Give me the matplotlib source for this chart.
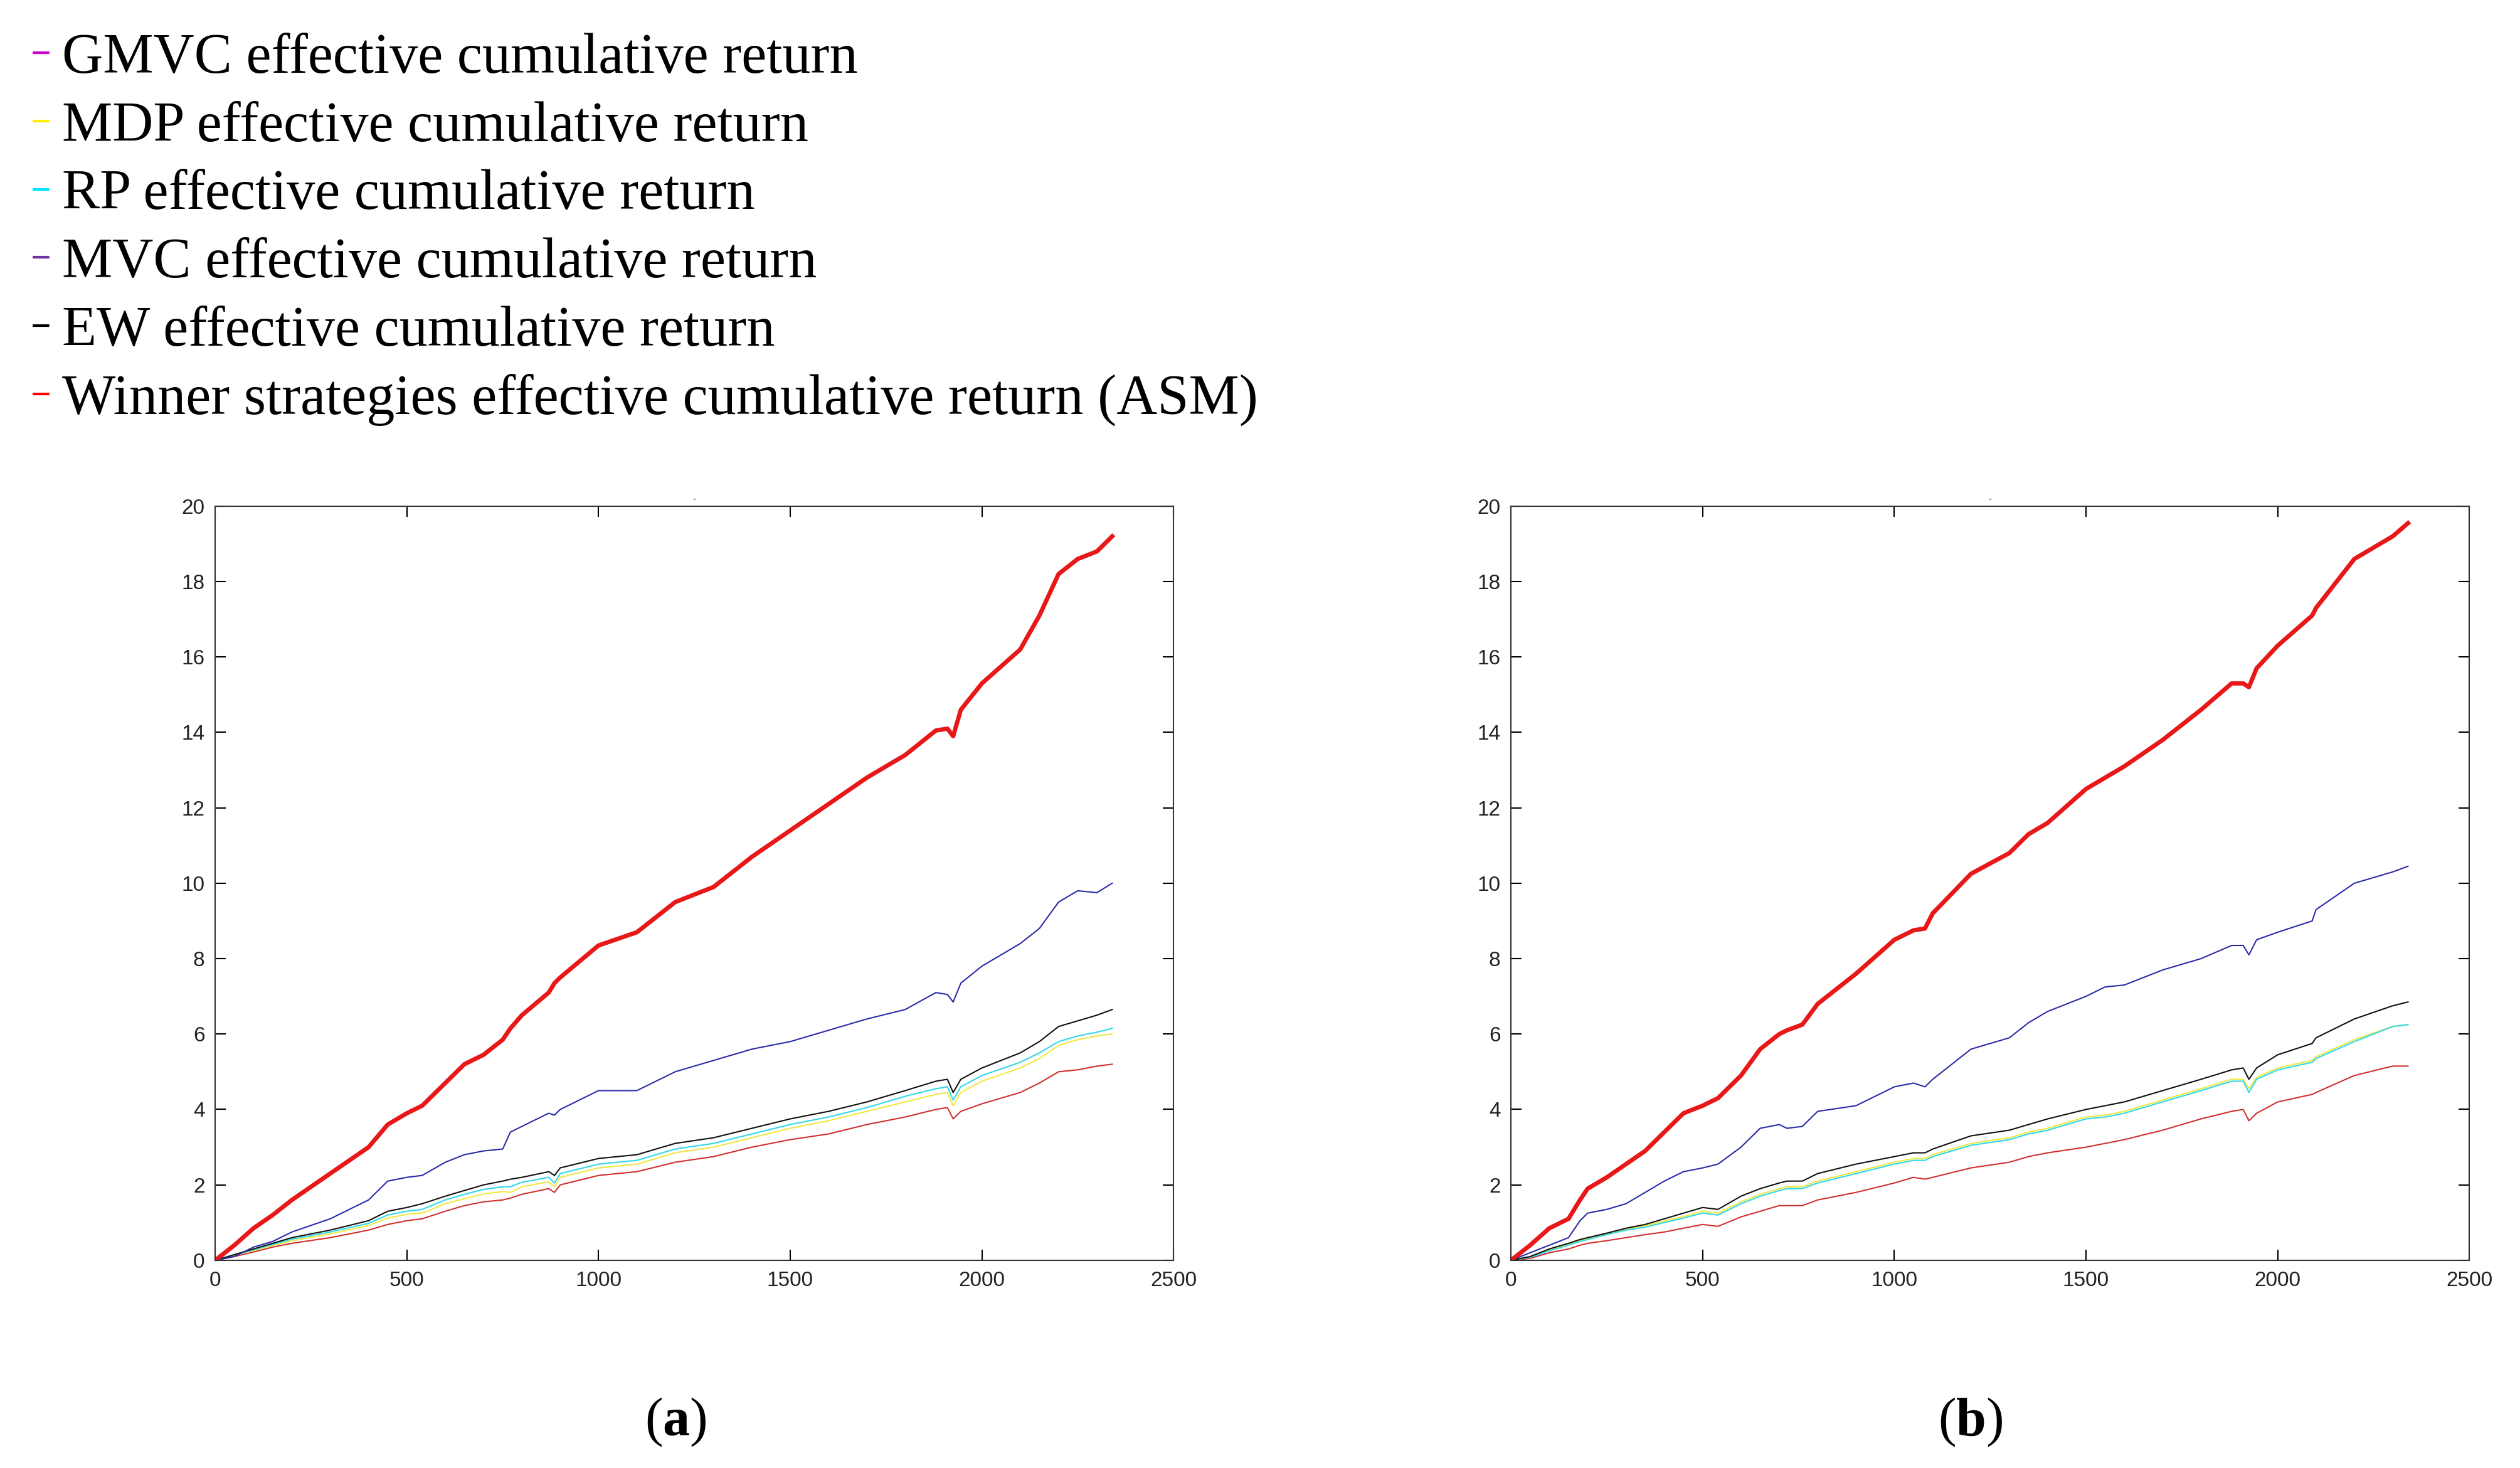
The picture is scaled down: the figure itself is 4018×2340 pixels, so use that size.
import matplotlib
matplotlib.use("Agg")
from matplotlib import pyplot as plt
from matplotlib.lines import Line2D

plt.rcParams['mathtext.fontset'] = 'custom'
plt.rcParams['mathtext.rm'] = 'Liberation Serif'
plt.rcParams['mathtext.bf'] = 'Liberation Serif:bold'

# legend entries (text + marker colour in the legend)
labels = ['GMVC effective cumulative return',
          'MDP effective cumulative return',
          'RP effective cumulative return',
          'MVC effective cumulative return',
          'EW effective cumulative return',
          'Winner strategies effective cumulative return (ASM)']
legend_colors = ['#cc00cc', '#ffee00', '#00e5ff', '#7030a0', '#000000', '#ff0000']

# panel (a)
xa = [0, 50, 100, 150, 200, 300, 400, 450, 500, 540, 600, 650, 700, 750, 770, 800, 870, 885, 900,
      1000, 1100, 1200, 1300, 1400, 1500, 1600, 1700, 1800, 1880, 1910, 1925, 1945, 2000, 2100,
      2150, 2200, 2250, 2300, 2340]
asm_a = [0, 0.4, 0.85, 1.2, 1.6, 2.3, 3.0, 3.6, 3.9, 4.1, 4.7, 5.2, 5.45, 5.85, 6.15, 6.5, 7.1, 7.35, 7.5,
         8.35, 8.7, 9.5, 9.9, 10.7, 11.4, 12.1, 12.8, 13.4, 14.05, 14.1, 13.9, 14.6, 15.3, 16.2,
         17.1, 18.2, 18.6, 18.8, 19.2]
mvc_a = [0, 0.1, 0.35, 0.5, 0.75, 1.1, 1.6, 2.1, 2.2, 2.25, 2.6, 2.8, 2.9, 2.95, 3.4, 3.55, 3.9, 3.85, 4.0,
         4.5, 4.5, 5.0, 5.3, 5.6, 5.8, 6.1, 6.4, 6.65, 7.1, 7.05, 6.85, 7.35, 7.8, 8.4,
         8.8, 9.5, 9.8, 9.75, 10.0]
ew_a = [0, 0.15, 0.3, 0.45, 0.6, 0.8, 1.05, 1.3, 1.4, 1.5, 1.7, 1.85, 2.0, 2.1, 2.15, 2.2, 2.35, 2.25, 2.45,
        2.7, 2.8, 3.1, 3.25, 3.5, 3.75, 3.95, 4.2, 4.5, 4.75, 4.8, 4.45, 4.8, 5.1, 5.5,
        5.8, 6.2, 6.35, 6.5, 6.65]
rp_a = [0, 0.14, 0.28, 0.42, 0.56, 0.75, 0.98, 1.2, 1.3, 1.35, 1.6, 1.75, 1.88, 1.95, 1.95, 2.07, 2.2, 2.05, 2.3,
        2.55, 2.65, 2.95, 3.1, 3.35, 3.6, 3.8, 4.05, 4.35, 4.55, 4.6, 4.25, 4.6, 4.9, 5.25,
        5.5, 5.8, 5.95, 6.05, 6.15]
mdp_a = [0, 0.13, 0.26, 0.39, 0.52, 0.7, 0.92, 1.12, 1.22, 1.25, 1.5, 1.63, 1.76, 1.82, 1.8, 1.95, 2.08, 1.95, 2.2,
         2.45, 2.55, 2.85, 3.0, 3.25, 3.5, 3.7, 3.95, 4.2, 4.4, 4.45, 4.1, 4.45, 4.75, 5.1,
         5.35, 5.7, 5.85, 5.95, 6.0]
gmvc_a = [0, 0.1, 0.22, 0.35, 0.45, 0.6, 0.8, 0.95, 1.05, 1.1, 1.3, 1.45, 1.55, 1.6, 1.65, 1.75, 1.9, 1.8, 2.0,
          2.25, 2.35, 2.6, 2.75, 3.0, 3.2, 3.35, 3.6, 3.8, 4.0, 4.05, 3.75, 3.95, 4.15, 4.45,
          4.7, 5.0, 5.05, 5.15, 5.2]

# panel (b)
xb = [0, 50, 100, 150, 180, 200, 250, 300, 350, 400, 450, 500, 540, 600, 650, 700, 720, 760, 800, 900,
      1000, 1050, 1080, 1100, 1200, 1300, 1350, 1400, 1500, 1550, 1600, 1700, 1800, 1880, 1910, 1925,
      1945, 2000, 2090, 2100, 2200, 2300, 2340]
asm_b = [0, 0.4, 0.85, 1.1, 1.6, 1.9, 2.2, 2.55, 2.9, 3.4, 3.9, 4.1, 4.3, 4.9, 5.6, 6.0, 6.1, 6.25, 6.8, 7.6,
         8.5, 8.75, 8.8, 9.2, 10.25, 10.8, 11.3, 11.6, 12.5, 12.8, 13.1, 13.8, 14.6, 15.3, 15.3, 15.2,
         15.7, 16.3, 17.1, 17.3, 18.6, 19.2, 19.55]
mvc_b = [0, 0.2, 0.4, 0.6, 1.05, 1.25, 1.35, 1.5, 1.8, 2.1, 2.35, 2.45, 2.55, 3.0, 3.5, 3.6, 3.5, 3.55, 3.95, 4.1,
         4.6, 4.7, 4.6, 4.8, 5.6, 5.9, 6.3, 6.6, 7.0, 7.25, 7.3, 7.7, 8.0, 8.35, 8.35, 8.1,
         8.5, 8.7, 9.0, 9.3, 10.0, 10.3, 10.45]
ew_b = [0, 0.1, 0.3, 0.45, 0.55, 0.6, 0.72, 0.85, 0.95, 1.1, 1.25, 1.4, 1.35, 1.7, 1.9, 2.05, 2.1, 2.1, 2.3, 2.55,
        2.75, 2.85, 2.85, 2.95, 3.3, 3.45, 3.6, 3.75, 4.0, 4.1, 4.2, 4.5, 4.8, 5.05, 5.1, 4.8,
        5.1, 5.45, 5.75, 5.9, 6.4, 6.75, 6.85]
rp_b = [0, 0.08, 0.25, 0.4, 0.5, 0.55, 0.68, 0.8, 0.88, 1.0, 1.12, 1.25, 1.2, 1.5, 1.7, 1.85, 1.9, 1.9, 2.05, 2.3,
        2.55, 2.65, 2.65, 2.75, 3.05, 3.2, 3.35, 3.45, 3.75, 3.8, 3.9, 4.2, 4.5, 4.75, 4.75, 4.45,
        4.8, 5.05, 5.25, 5.35, 5.8, 6.2, 6.25]
mdp_b = [0, 0.09, 0.27, 0.42, 0.53, 0.58, 0.7, 0.83, 0.92, 1.04, 1.16, 1.3, 1.25, 1.55, 1.75, 1.9, 1.95, 1.95, 2.1, 2.35,
         2.6, 2.7, 2.7, 2.8, 3.1, 3.25, 3.4, 3.5, 3.8, 3.85, 3.95, 4.25, 4.55, 4.8, 4.8, 4.55,
         4.85, 5.1, 5.3, 5.4, 5.85, 6.2, 6.25]
gmvc_b = [0, 0.05, 0.2, 0.3, 0.4, 0.45, 0.52, 0.6, 0.68, 0.75, 0.85, 0.95, 0.9, 1.15, 1.3, 1.45, 1.45, 1.45, 1.6, 1.8,
          2.05, 2.2, 2.15, 2.2, 2.45, 2.6, 2.75, 2.85, 3.0, 3.1, 3.2, 3.45, 3.75, 3.95, 4.0, 3.7,
          3.9, 4.2, 4.4, 4.45, 4.9, 5.15, 5.15]

xticks = [0, 500, 1000, 1500, 2000, 2500]
yticks = [0, 2, 4, 6, 8, 10, 12, 14, 16, 18, 20]

fig = plt.figure(figsize=(40.18, 23.4), dpi=100)
ax_a = fig.add_axes([0.0854, 0.1415, 0.3803, 0.5137])
ax_b = fig.add_axes([0.5996, 0.1415, 0.3803, 0.5137])

def draw(ax, x, gmvc, mdp, rp, mvc, ew, asm):
    ax.plot(x, gmvc, color='#d03030', lw=1.5)
    ax.plot(x, mdp, color='#f0e840', lw=1.5)
    ax.plot(x, rp, color='#30d8e8', lw=1.5)
    ax.plot(x, ew, color='#101010', lw=1.5)
    ax.plot(x, mvc, color='#2a2aa8', lw=1.5)
    ax.plot(x, asm, color='#e81818', lw=5)
    ax.set_xlim(0, 2500)
    ax.set_ylim(0, 20)
    ax.set_xticks(xticks)
    ax.set_yticks(yticks)
    ax.tick_params(direction='in', length=12, width=1.5, top=True, right=True,
                   labelsize=24, pad=12)
    for lab in ax.get_xticklabels() + ax.get_yticklabels():
        lab.set_family('Liberation Sans')
        lab.set_color('#222222')
    for s in ax.spines.values():
        s.set_linewidth(1.5)
        s.set_color('#333333')
    ax.set_title('-', fontsize=10, pad=4)

draw(ax_a, xa, gmvc_a, mdp_a, rp_a, mvc_a, ew_a, asm_a)
draw(ax_b, xb, gmvc_b, mdp_b, rp_b, mvc_b, ew_b, asm_b)

handles = [Line2D([], [], color=c, lw=3, linestyle='-.') for c in legend_colors]
fig.legend(handles, labels, loc='upper left', bbox_to_anchor=(0.004, 0.993),
           frameon=False, prop={'family': 'Liberation Serif', 'size': 65},
           handlelength=0.3, handletextpad=0.22, labelspacing=0.29, borderaxespad=0)

fig.text(0.268, 0.031, r'($\mathbf{a}$)', ha='center', va='center', fontsize=62,
         family='Liberation Serif')
fig.text(0.782, 0.031, r'($\mathbf{b}$)', ha='center', va='center', fontsize=62,
         family='Liberation Serif')

fig.savefig('out.png', dpi=100)
